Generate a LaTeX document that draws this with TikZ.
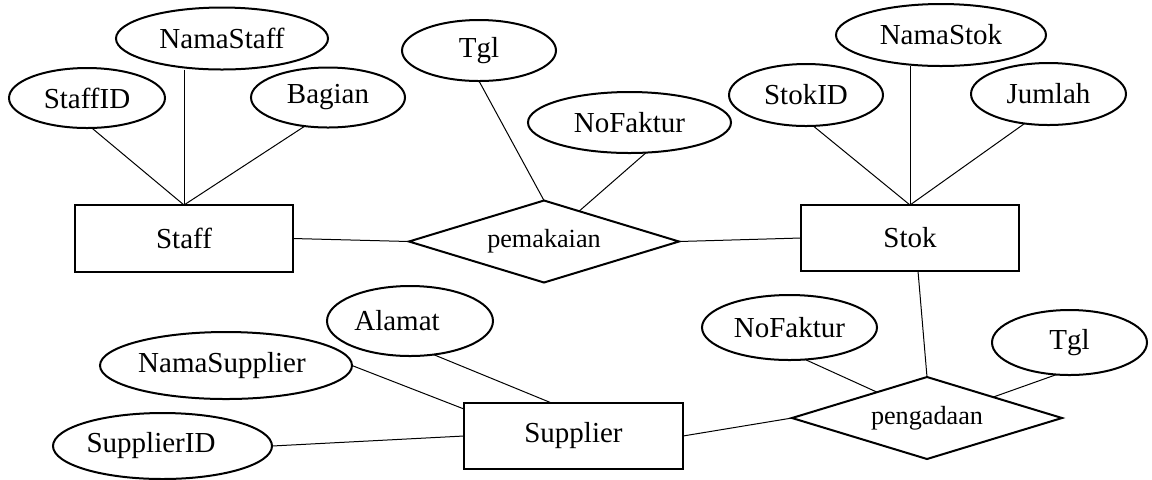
\documentclass[tikz,border=0pt]{standalone}
\usepackage{fontspec}
\setmainfont{Liberation Serif}
\usetikzlibrary{shapes.geometric,calc}

\tikzset{
  entity/.style={draw, line width=1.1pt, rectangle, inner sep=0pt, outer sep=0pt,
    font=\fontsize{14.5pt}{17pt}\selectfont},
  attr/.style={draw, line width=1pt, ellipse, inner sep=0pt, outer sep=0pt,
    font=\fontsize{14.5pt}{17pt}\selectfont},
  rel/.style={draw, line width=1pt, diamond, aspect=3.3, inner sep=0pt, outer sep=0pt,
    minimum width=135pt, minimum height=41pt,
    font=\fontsize{13.1pt}{15pt}\selectfont},
  link/.style={line width=0.5pt}
}

\begin{document}
\begin{tikzpicture}[x=0.5pt, y=-0.5pt]
\useasboundingbox (0,0) rectangle (1152,479);

% entities
\node[entity, minimum width=109pt, minimum height=33.5pt] (staff) at (184,238.5) {Staff};
\node[entity, minimum width=109pt, minimum height=33pt] (stok) at (910,238) {Stok};
\node[entity, minimum width=109.5pt, minimum height=33pt] (supplier) at (573.5,436) {Supplier};

% relationships
\node[rel] (pemakaian) at (544,241.5) {pemakaian};
\node[rel] (pengadaan) at (927,418) {pengadaan};

% attributes of Staff
\node[attr, minimum width=78pt, minimum height=30pt] (staffid) at (87,98) {StaffID};
\node[attr, minimum width=106pt, minimum height=31pt] (namastaff) at (222,38.5) {NamaStaff};
\node[attr, minimum width=77pt, minimum height=30pt] (bagian) at (328,97.5) {Bagian};

% attributes of pemakaian
\node[attr, minimum width=77pt, minimum height=30.5pt] (tglpakai) at (479,50.5) {Tgl};
\node[attr, minimum width=101.5pt, minimum height=30.5pt] (fakturpakai) at (629.5,122.5) {NoFaktur};

% attributes of Stok
\node[attr, minimum width=77pt, minimum height=31pt] (stokid) at (806,95) {StokID};
\node[attr, minimum width=105pt, minimum height=31pt] (namastok) at (941,35) {NamaStok};
\node[attr, minimum width=77.5pt, minimum height=31pt] (jumlah) at (1048.5,94) {Jumlah};

% attributes of Supplier
\node[attr, minimum width=83pt, minimum height=35pt] (alamat) at (410,321) {Alamat\hspace*{13pt}};
\node[attr, minimum width=126pt, minimum height=33.5pt] (namasupplier) at (226,365.5) {NamaSupplier\hspace*{4pt}};
\node[attr, minimum width=109.5pt, minimum height=33pt] (supplierid) at (162.5,446) {SupplierID\hspace*{11.5pt}};

% attributes of pengadaan
\node[attr, minimum width=87.5pt, minimum height=32.5pt] (fakturada) at (789.5,327.5) {NoFaktur};
\node[attr, minimum width=77.5pt, minimum height=32.5pt] (tglada) at (1069.5,342.5) {Tgl};

% connectors: Staff
\draw[link] (staffid.279) -- (staff.north);
\draw[link] (namastaff.south -| staff.north) -- (staff.north);
\draw[link] (bagian.231) -- (staff.north);
\draw[link] (staff.east) -- (pemakaian.west);

% connectors: pemakaian
\draw[link] (tglpakai.south) -- (pemakaian.north);
\draw[link] (fakturpakai.299) -- ($(pemakaian.north)!0.26!(pemakaian.east)$);
\draw[link] (pemakaian.east) -- (stok.west);

% connectors: Stok
\draw[link] (stokid.283) -- (stok.north);
\draw[link] (namastok.south -| stok.north) -- (stok.north);
\draw[link] (jumlah.231) -- (stok.north);
\draw[link] ($(stok.south)+(8,0)$) -- (pengadaan.north);

% connectors: pengadaan
\draw[link] (fakturada.296) -- ($(pengadaan.west)!0.63!(pengadaan.north)$);
\draw[link] (tglada.248) -- ($(pengadaan.north)!0.49!(pengadaan.east)$);
\draw[link] (supplier.east) -- (pengadaan.west);

% connectors: Supplier
\draw[link] (alamat.305) -- ($(supplier.north west)!0.4!(supplier.north east)$);
\draw[link] (namasupplier.east) -- ($(supplier.north west)+(0,6)$);
\draw[link] (supplierid.east) -- (supplier.west);
\end{tikzpicture}
\end{document}
